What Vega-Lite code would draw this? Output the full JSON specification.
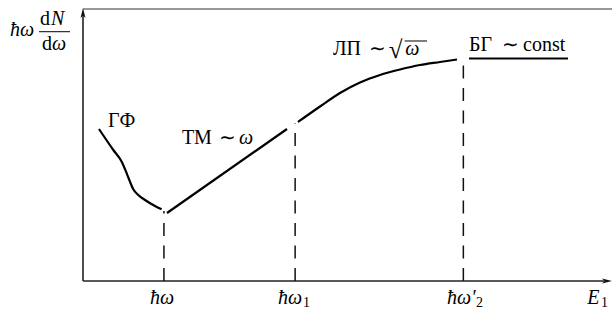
{
  "$schema": "https://vega.github.io/schema/vega-lite/v6.json",
  "width": 529,
  "height": 272,
  "autosize": "none",
  "padding": {"left": 83, "top": 9, "right": 0, "bottom": 39},
  "background": "white",
  "config": {"view": {"stroke": null}},
  "datasets": {
    "curves": [
      {"segment": "ГФ", "x": 3.02, "y": 55.88},
      {"segment": "ГФ", "x": 5.73, "y": 48.16},
      {"segment": "ГФ", "x": 7.32, "y": 43.86},
      {"segment": "ГФ", "x": 8.26, "y": 39.6},
      {"segment": "ГФ", "x": 8.88, "y": 36.51},
      {"segment": "ГФ", "x": 9.51, "y": 33.71},
      {"segment": "ГФ", "x": 10.45, "y": 31.62},
      {"segment": "ГФ", "x": 11.72, "y": 29.78},
      {"segment": "ГФ", "x": 13.61, "y": 27.57},
      {"segment": "ГФ", "x": 14.86, "y": 26.36},
      {"segment": "ТМ", "x": 15.88, "y": 25.0},
      {"segment": "ТМ", "x": 38.56, "y": 55.88},
      {"segment": "ЛП", "x": 40.64, "y": 58.46},
      {"segment": "ЛП", "x": 44.8, "y": 64.15},
      {"segment": "ЛП", "x": 48.58, "y": 69.12},
      {"segment": "ЛП", "x": 52.36, "y": 72.98},
      {"segment": "ЛП", "x": 56.14, "y": 75.74},
      {"segment": "ЛП", "x": 59.92, "y": 77.76},
      {"segment": "ЛП", "x": 63.71, "y": 79.41},
      {"segment": "ЛП", "x": 67.49, "y": 80.51},
      {"segment": "ЛП", "x": 70.7, "y": 81.43},
      {"segment": "БГ", "x": 72.97, "y": 81.8},
      {"segment": "БГ", "x": 91.68, "y": 81.8}
    ],
    "guides": [
      {"x": 15.3, "y": 0, "y2": 25.7},
      {"x": 40.1, "y": 0, "y2": 58.1},
      {"x": 71.9, "y": 0, "y2": 80.5}
    ],
    "axes": [
      {"x": 0, "x2": 98.5, "y": 0, "y2": 0},
      {"x": 0, "x2": 0, "y": 0, "y2": 99}
    ],
    "frame": [
      {"x": 0, "x2": 100, "y": 100, "y2": 100}
    ],
    "strokes": [
      {"x": -8.32, "x2": -2.46, "y": 91.65, "y2": 91.65},
      {"x": 60.8, "x2": 65.03, "y": 88.24, "y2": 88.24}
    ],
    "arrows": [
      {"dir": "right", "x": 100, "y": 0},
      {"dir": "up", "x": 0, "y": 100.4}
    ],
    "upright": [
      {"text": "ГФ", "x": 4.73, "y": 56.6},
      {"text": "ТМ", "x": 18.71, "y": 50.37},
      {"text": "∼", "x": 25.7, "y": 50.37},
      {"text": "ЛП", "x": 47.26, "y": 83.09},
      {"text": "∼", "x": 54.06, "y": 83.09},
      {"text": "БГ", "x": 72.97, "y": 84.56},
      {"text": "∼", "x": 79.21, "y": 84.56},
      {"text": "const", "x": 83.18, "y": 84.56},
      {"text": "d", "x": -8.13, "y": 94.12},
      {"text": "d", "x": -7.75, "y": 84.93}
    ],
    "radical": [
      {"text": "√", "x": 57.8, "y": 82.0}
    ],
    "italic": [
      {"text": "ω", "x": 29.5, "y": 50.37},
      {"text": "ω", "x": 60.9, "y": 83.09},
      {"text": "ħω", "x": -13.8, "y": 90.07},
      {"text": "N", "x": -6.05, "y": 94.12},
      {"text": "ω", "x": -5.86, "y": 84.93},
      {"text": "ħω", "x": 12.67, "y": -8.46},
      {"text": "ħω", "x": 36.86, "y": -8.46},
      {"text": "ħω′", "x": 68.81, "y": -8.46},
      {"text": "E", "x": 95.3, "y": -8.46}
    ],
    "subscripts": [
      {"text": "1", "x": 41.59, "y": -9.56},
      {"text": "2", "x": 74.3, "y": -9.56},
      {"text": "1", "x": 97.9, "y": -9.56}
    ]
  },
  "layer": [
    {
      "data": {"name": "frame"},
      "mark": {"type": "rule", "color": "#333333", "strokeWidth": 1},
      "encoding": {
        "x": {"field": "x", "type": "quantitative", "scale": {"domain": [0, 100], "nice": false, "zero": false}, "axis": null},
        "x2": {"field": "x2"},
        "y": {"field": "y", "type": "quantitative", "scale": {"domain": [0, 100], "nice": false, "zero": false}, "axis": null},
        "y2": {"field": "y2"}
      }
    },
    {
      "data": {"name": "axes"},
      "mark": {"type": "rule", "color": "#222222", "strokeWidth": 1.6},
      "encoding": {
        "x": {"field": "x", "type": "quantitative"},
        "x2": {"field": "x2"},
        "y": {"field": "y", "type": "quantitative"},
        "y2": {"field": "y2"}
      }
    },
    {
      "data": {"name": "arrows"},
      "mark": {"type": "point", "filled": true, "color": "#111111", "opacity": 1, "size": 100},
      "encoding": {
        "x": {"field": "x", "type": "quantitative"},
        "y": {"field": "y", "type": "quantitative"},
        "shape": {
          "field": "dir",
          "type": "nominal",
          "scale": {
            "domain": ["right", "up"],
            "range": ["M0,0 L-2,-0.5 L-1.5,0 L-2,0.5 Z", "M0,0 L-0.5,2 L0,1.5 L0.5,2 Z"]
          },
          "legend": null
        }
      }
    },
    {
      "data": {"name": "guides"},
      "mark": {"type": "rule", "color": "#111111", "strokeWidth": 1.5, "strokeDash": [13, 9.5]},
      "encoding": {
        "x": {"field": "x", "type": "quantitative"},
        "y": {"field": "y", "type": "quantitative"},
        "y2": {"field": "y2"}
      }
    },
    {
      "data": {"name": "curves"},
      "mark": {"type": "line", "color": "#000000", "strokeWidth": 2.2, "interpolate": "monotone", "strokeCap": "butt"},
      "encoding": {
        "x": {"field": "x", "type": "quantitative"},
        "y": {"field": "y", "type": "quantitative"},
        "detail": {"field": "segment", "type": "nominal"}
      }
    },
    {
      "data": {"name": "strokes"},
      "mark": {"type": "rule", "color": "#000000", "strokeWidth": 1},
      "encoding": {
        "x": {"field": "x", "type": "quantitative"},
        "x2": {"field": "x2"},
        "y": {"field": "y", "type": "quantitative"},
        "y2": {"field": "y2"}
      }
    },
    {
      "data": {"name": "upright"},
      "mark": {"type": "text", "font": "Liberation Serif", "fontSize": 20, "align": "left", "baseline": "alphabetic", "color": "#000000"},
      "encoding": {
        "x": {"field": "x", "type": "quantitative"},
        "y": {"field": "y", "type": "quantitative"},
        "text": {"field": "text"}
      }
    },
    {
      "data": {"name": "radical"},
      "mark": {"type": "text", "font": "Liberation Serif", "fontSize": 25, "align": "left", "baseline": "alphabetic", "color": "#000000"},
      "encoding": {
        "x": {"field": "x", "type": "quantitative"},
        "y": {"field": "y", "type": "quantitative"},
        "text": {"field": "text"}
      }
    },
    {
      "data": {"name": "italic"},
      "mark": {"type": "text", "font": "Liberation Serif", "fontStyle": "italic", "fontSize": 20, "align": "left", "baseline": "alphabetic", "color": "#000000"},
      "encoding": {
        "x": {"field": "x", "type": "quantitative"},
        "y": {"field": "y", "type": "quantitative"},
        "text": {"field": "text"}
      }
    },
    {
      "data": {"name": "subscripts"},
      "mark": {"type": "text", "font": "Liberation Serif", "fontSize": 14, "align": "left", "baseline": "alphabetic", "color": "#000000"},
      "encoding": {
        "x": {"field": "x", "type": "quantitative"},
        "y": {"field": "y", "type": "quantitative"},
        "text": {"field": "text"}
      }
    }
  ]
}
